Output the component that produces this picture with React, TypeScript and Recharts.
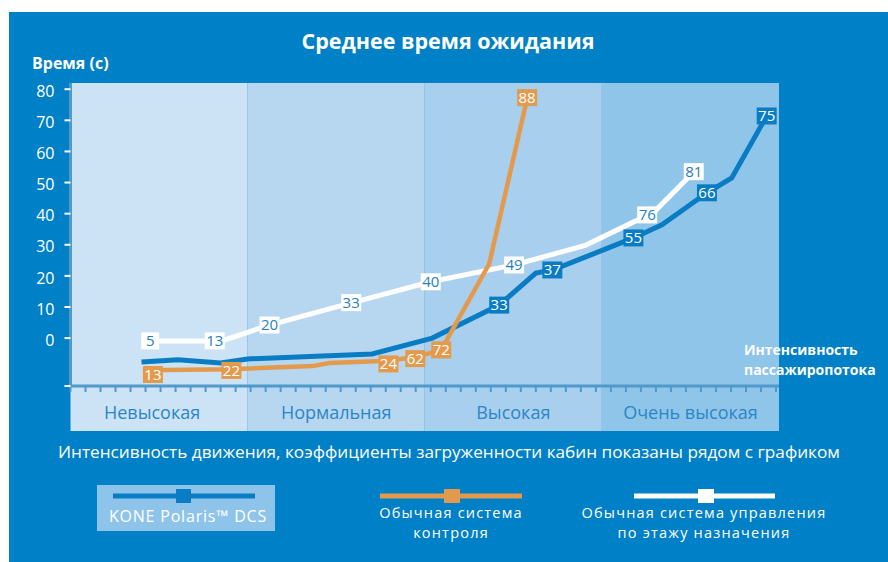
import React from 'react';
import { ComposedChart, Line, Scatter, XAxis, YAxis, ReferenceArea } from 'recharts';

const FONT = '"Open Sans", "Noto Sans", sans-serif';

// Load bands (x in tick units along the horizontal axis)
const bandLabels = ['Невысокая', 'Нормальная', 'Высокая', 'Очень высокая'];
const bandStarts = [0, 11.8, 23.6, 35.4];
const bandEnds = [11.8, 23.6, 35.4, 47.2];
const bandLabelShift = [-7, 0, 0, 0];
const bandColors = ['#cce2f5', '#b7d7f1', '#a8cfee', '#90c5ea'];

const yTicks = [-15.4, 0, 10, 20, 30, 40, 50, 60, 70, 80];
const xTicks = [0, 1, 2, 3, 4, 5, 6, 7, 8, 9, 10, 11, 12, 13, 14, 15, 16, 17, 18, 19, 20, 21, 22, 23, 24, 25, 26, 27, 28, 29, 30, 31, 32, 33, 34, 35, 36, 37, 38, 39, 40, 41, 42, 43, 44, 45, 46, 47];

// KONE Polaris DCS
const koneX = [4.73, 7.15, 10.0, 11.8, 20.1, 24.1, 28.56, 31.0, 32.1, 35.0, 37.5, 39.4, 42.4, 44.05, 46.38];
const koneY = [-7.7, -7.0, -8.0, -6.7, -5.1, 0.0, 10.6, 20.9, 21.9, 27.4, 32.2, 36.4, 46.7, 51.5, 71.4];
const koneLabelX = [28.56, 32.1, 37.5, 42.4, 46.38];
const koneLabelY = [10.6, 21.9, 32.2, 46.7, 71.4];
const koneLabelText = ['33', '37', '55', '66', '75'];

// Conventional control
const convX = [4.82, 10.74, 16.12, 17.25, 21.18, 22.97, 24.7, 27.89, 30.42];
const convY = [-10.3, -10.0, -9.0, -8.0, -7.3, -6.1, -3.8, 23.8, 77.0];
const convLabelX = [5.49, 10.72, 21.18, 22.97, 24.7, 30.42];
const convLabelY = [-11.7, -10.4, -8.3, -6.6, -3.8, 77.3];
const convLabelText = ['13', '22', '24', '62', '72', '88'];

// Conventional destination control
const destX = [4.75, 10.07, 13.26, 18.72, 24.0, 29.55, 34.34, 38.87, 41.52];
const destY = [-0.9, -0.9, 4.2, 11.3, 18.1, 23.5, 29.9, 40.5, 53.4];
const destLabelX = [5.31, 9.61, 13.26, 18.7, 24.0, 29.55, 38.42, 41.52];
const destLabelY = [-0.9, -0.9, 4.2, 11.4, 18.1, 23.5, 39.6, 53.5];
const destLabelText = ['5', '13', '20', '33', '40', '49', '76', '81'];

const legendConv = ['Обычная система', 'контроля'];
const legendDest = ['Обычная система управления', 'по этажу назначения'];

const BLUE_LINE = '#0a7cc4';
const ORANGE = '#e39a4c';
const AXIS = '#4f9acb';
const BG = '#0080c6';

const koneData = koneX.map((x, i) => ({ x, y: koneY[i] }));
const convData = convX.map((x, i) => ({ x, y: convY[i] }));
const destData = destX.map((x, i) => ({ x, y: destY[i] }));
const koneLabels = koneLabelX.map((x, i) => ({ x, y: koneLabelY[i], t: koneLabelText[i] }));
const convLabels = convLabelX.map((x, i) => ({ x, y: convLabelY[i], t: convLabelText[i] }));
const destLabels = destLabelX.map((x, i) => ({ x, y: destLabelY[i], t: destLabelText[i] }));

const makeBox = (bg: string, fg: string) => (props: any) => {
  const { cx, cy, payload } = props;
  const t = String(payload.t);
  const w = t.length > 1 ? 20 : 18;
  const h = 17;
  return (
    <g>
      <rect x={cx - w / 2} y={cy - h / 2} width={w} height={h} fill={bg} />
      <text x={cx} y={cy + 5.3} textAnchor="middle" fill={fg} fontSize={15} fontFamily={FONT}>
        {t}
      </text>
    </g>
  );
};

const bandLabel = (text: string, shift: number) => (p: any) => {
  const vb = p.viewBox;
  return (
    <text x={vb.x + vb.width / 2 + shift} y={419} textAnchor="middle" fill="#2a86c6" fontSize={18} fontFamily={FONT}>
      {text}
    </text>
  );
};

const TwoLine = ({ x, lines }: { x: number; lines: string[] }) => (
  <g>
    <text x={x} y={518} textAnchor="middle" fill="#fff" fontSize={14.5} letterSpacing={1.2}>{lines[0]}</text>
    <text x={x} y={538} textAnchor="middle" fill="#fff" fontSize={14.5} letterSpacing={1.2}>{lines[1]}</text>
  </g>
);

export default function App() {
  return (
    <div style={{ position: 'absolute', left: 0, top: 0, width: 888, height: 562, background: '#fff', fontFamily: FONT, overflow: 'hidden' }}>
      <div style={{ position: 'absolute', left: 9, top: 12, width: 879, height: 550, background: BG }} />
      <div style={{ position: 'absolute', left: 0, top: 0 }}>
        <ComposedChart width={888} height={562} margin={{ top: 83, right: 109, bottom: 146, left: 0 }}>
          {bandStarts.map((s, i) => (
            <ReferenceArea key={'b' + i} x1={s} x2={bandEnds[i]} y1={-15.4} y2={82} fill={bandColors[i]} fillOpacity={1} stroke="none" ifOverflow="visible" />
          ))}
          {bandStarts.map((s, i) => (
            <ReferenceArea key={'l' + i} x1={s} x2={bandEnds[i]} y1={-29.9} y2={-15.4} fill={bandColors[i]} fillOpacity={1} stroke="none" ifOverflow="visible" label={bandLabel(bandLabels[i], bandLabelShift[i])} />
          ))}
          <XAxis
            dataKey="x"
            type="number"
            domain={[0, 47.2]}
            allowDataOverflow
            ticks={xTicks}
            interval={0}
            height={30}
            axisLine={{ stroke: AXIS, strokeWidth: 3 }}
            tickLine={{ stroke: AXIS, strokeWidth: 2 }}
            tickSize={6}
            tickFormatter={() => ''}
          />
          <YAxis
            type="number"
            domain={[-15.4, 82]}
            allowDataOverflow
            ticks={yTicks}
            interval={0}
            width={70.5}
            axisLine={{ stroke: AXIS, strokeWidth: 3 }}
            tickLine={{ stroke: '#ffffff', strokeWidth: 2 }}
            tickSize={6}
            tickMargin={10}
            tick={{ fill: '#ffffff', fontSize: 16, dy: 2 }}
            tickFormatter={(v: number) => (v < 0 ? '' : String(v))}
          />
          <Line data={destData} dataKey="y" type="linear" stroke="#ffffff" strokeWidth={5} dot={false} isAnimationActive={false} />
          <Line data={koneData} dataKey="y" type="linear" stroke={BLUE_LINE} strokeWidth={5} dot={false} isAnimationActive={false} />
          <Line data={convData} dataKey="y" type="linear" stroke={ORANGE} strokeWidth={4.5} dot={false} isAnimationActive={false} />
          <Scatter data={destLabels} dataKey="y" shape={makeBox('#ffffff', '#1f80c4')} isAnimationActive={false} />
          <Scatter data={koneLabels} dataKey="y" shape={makeBox(BLUE_LINE, '#ffffff')} isAnimationActive={false} />
          <Scatter data={convLabels} dataKey="y" shape={makeBox(ORANGE, '#ffffff')} isAnimationActive={false} />
        </ComposedChart>
      </div>
      <svg width={888} height={562} style={{ position: 'absolute', left: 0, top: 0, pointerEvents: 'none' }} fontFamily={FONT}>
        <text x={448} y={49} textAnchor="middle" fill="#fff" fontSize={21.5} fontWeight="bold">Среднее время ожидания</text>
        <text x={32} y={69} fill="#fff" fontSize={16} fontWeight="bold">Время (с)</text>
        <text x={744} y={355} fill="#fff" fontSize={14} fontWeight="bold">Интенсивность</text>
        <text x={744} y={375} fill="#fff" fontSize={14} fontWeight="bold">пассажиропотока</text>
        <text x={449} y={458} textAnchor="middle" fill="#fff" fontSize={17.2}>Интенсивность движения, коэффициенты загруженности кабин показаны рядом с графиком</text>
        <rect x={97} y={485} width={178} height={46} fill="#8ec4ea" />
        <line x1={113} y1={496} x2={255} y2={496} stroke={BLUE_LINE} strokeWidth={5} />
        <rect x={176} y={489} width={15} height={14} fill={BLUE_LINE} />
        <text x={188} y={522} textAnchor="middle" fill="#fff" fontSize={16} letterSpacing={0.8}>KONE Polaris™ DCS</text>
        <line x1={380} y1={496} x2={522} y2={496} stroke={ORANGE} strokeWidth={5} />
        <rect x={444} y={489} width={16} height={14} fill={ORANGE} />
        <TwoLine x={451} lines={legendConv} />
        <line x1={634} y1={496} x2={775} y2={496} stroke="#fff" strokeWidth={5} />
        <rect x={698} y={489} width={16} height={14} fill="#fff" />
        <TwoLine x={704} lines={legendDest} />
      </svg>
    </div>
  );
}
